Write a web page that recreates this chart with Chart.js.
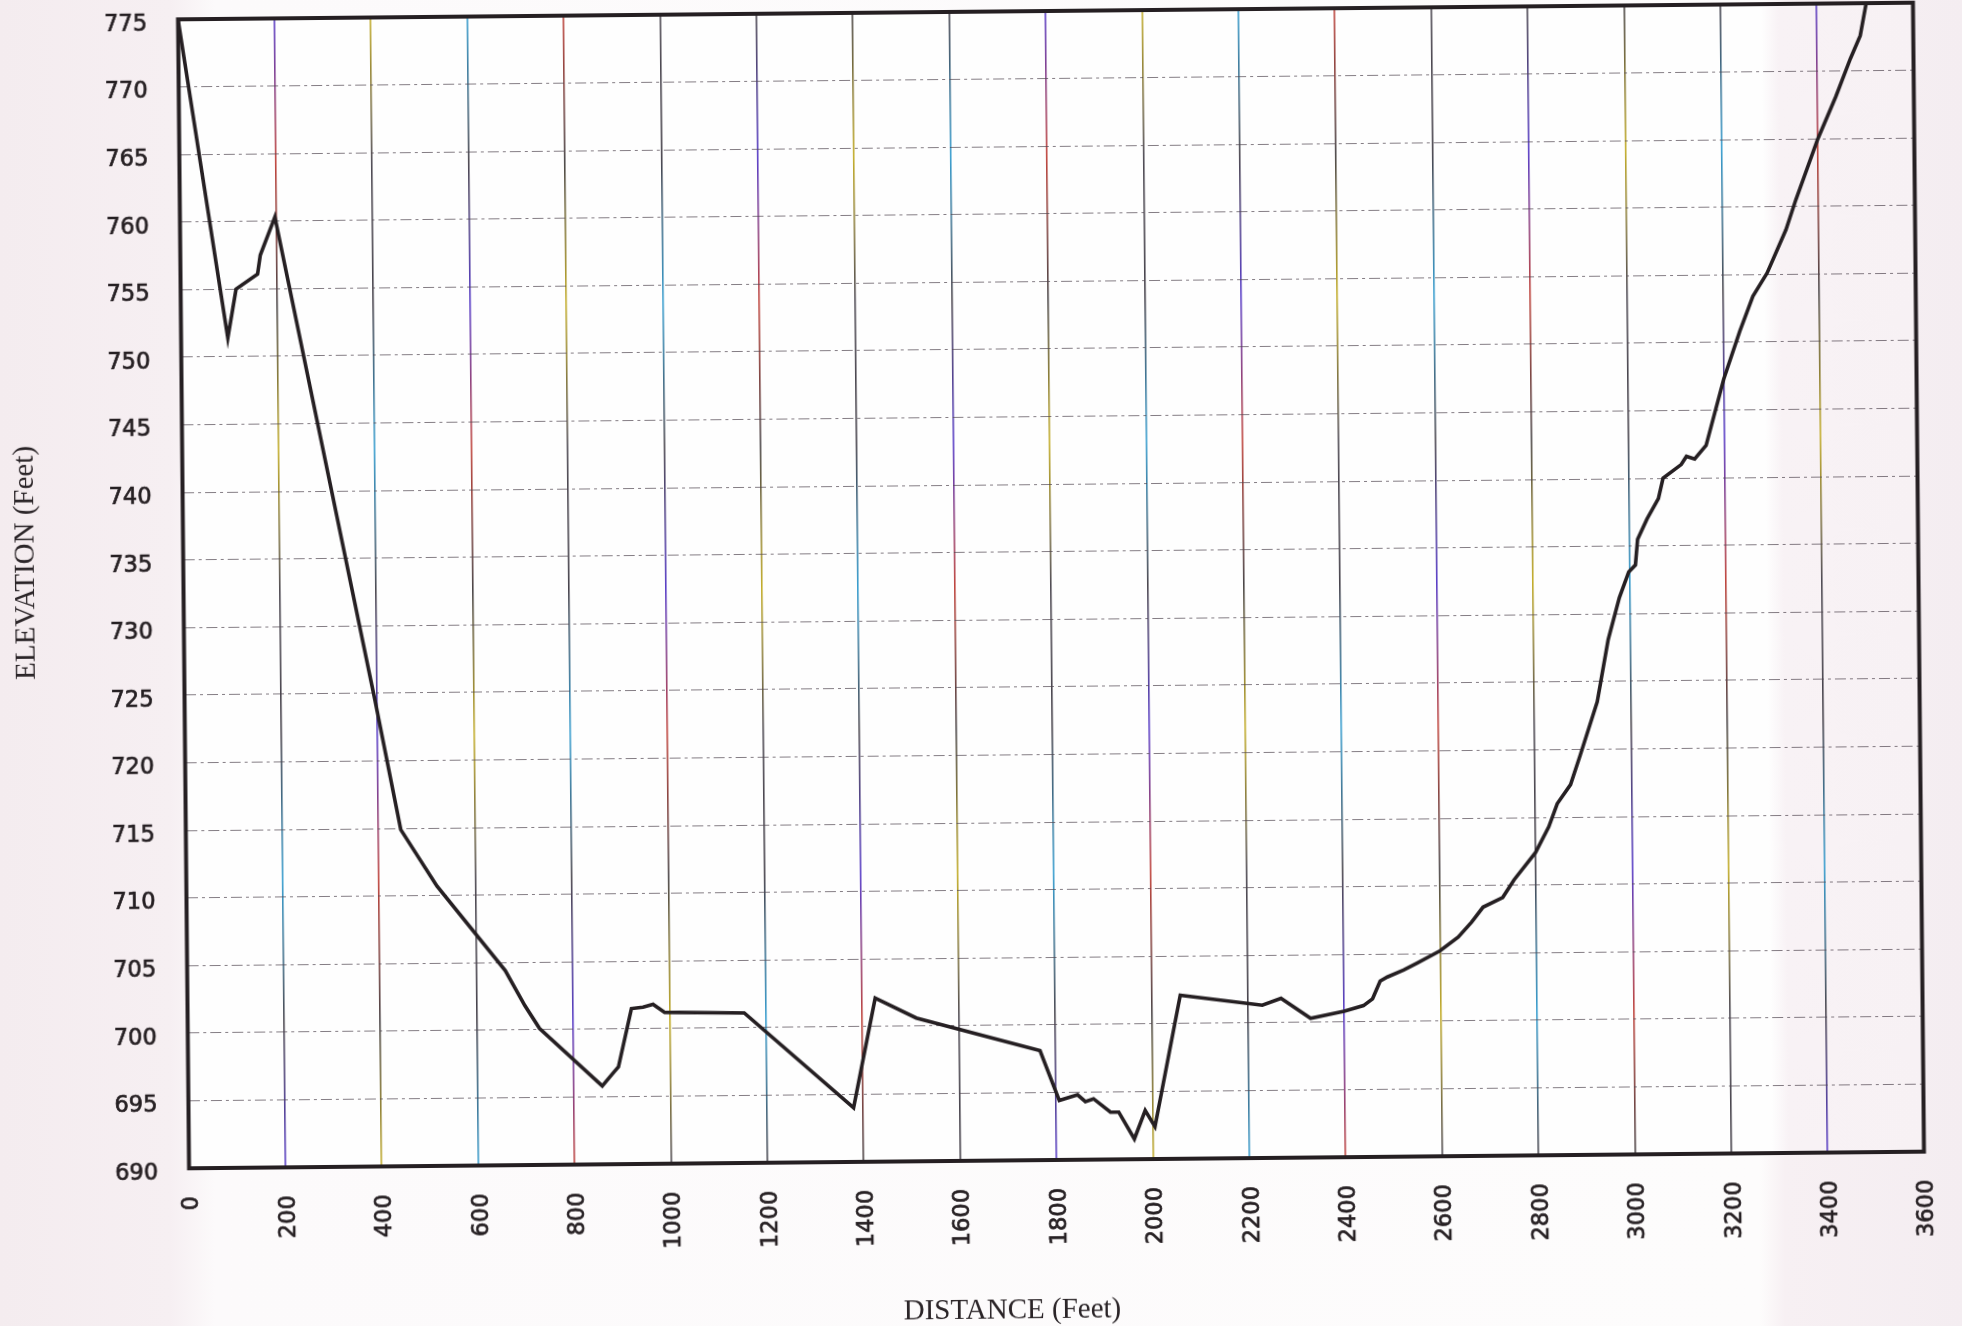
<!DOCTYPE html>
<html>
<head>
<meta charset="utf-8">
<title>Elevation profile</title>
<script src="https://cdn.jsdelivr.net/npm/chart.js@4.4.1/dist/chart.umd.min.js"></script>
<style>
  html, body { margin: 0; padding: 0; }
  body {
    width: 1962px; height: 1326px; overflow: hidden;
    background: linear-gradient(to right, #f4ecef 0px, #f6eff2 170px, #fcfafb 215px, #fdfcfc 1760px, #f7f0f3 1785px, #f4edf1 1962px);
  }
  #wrap {
    position: absolute; left: 0; top: 0; width: 1962px; height: 1326px;
    transform: rotate(-0.55deg); transform-origin: 1051px 585px;
  }
  canvas { display: block; }
</style>
</head>
<body>
<div id="wrap"><canvas id="profile" width="1962" height="1326" style="width:1962px;height:1326px"></canvas></div>
<script>
// Surveyed ground profile: distance along the section line and ground elevation (feet)
const distanceFt = [0, 97, 115, 160, 166, 197, 395, 446, 520, 660, 700, 730,
  859, 883, 893, 921, 945, 966, 990, 1155, 1380, 1427, 1512, 1768,
  1807, 1845, 1861, 1878, 1913, 1930, 1962, 1985, 2005,
  2060, 2230, 2269, 2330, 2400, 2440, 2459, 2475, 2490, 2524, 2552,
  2600, 2638, 2666, 2690, 2731, 2755, 2800,
  2828, 2846, 2874, 2894, 2931, 2955, 2979, 2999,
  3013, 3018, 3038, 3062, 3072, 3110, 3121, 3138, 3162,
  3200, 3234, 3262, 3292, 3332, 3353, 3400, 3438, 3469, 3490, 3503];

const elevationFt = [775, 751.4, 755, 756.1, 757.5, 760.3, 724.5, 714.9, 710.7, 704.4, 701.8, 700.1,
  695.8, 696.8, 697.2, 701.5, 701.6, 701.8, 701.2, 701.1, 694.0, 702.1, 700.6, 698.1,
  694.4, 694.8, 694.3, 694.5, 693.5, 693.5, 691.5, 693.6, 692.4,
  702.1, 701.3, 701.8, 700.3, 700.8, 701.2, 701.7, 703.0, 703.3, 703.8, 704.3,
  705.2, 706.2, 707.3, 708.4, 709.1, 710.4, 712.4,
  714.3, 716.0, 717.4, 719.5, 723.5, 728.1, 731.2, 733.1,
  733.6, 735.5, 737.0, 738.5, 740.0, 741.0, 741.6, 741.4, 742.4,
  747.3, 750.8, 753.4, 755.1, 758.3, 760.5, 765.0, 768.1, 770.9, 772.6, 775.0];

const distanceTicks = [0, 200, 400, 600, 800, 1000, 1200, 1400, 1600, 1800, 2000,
  2200, 2400, 2600, 2800, 3000, 3200, 3400, 3600];
const elevationTicks = [690, 695, 700, 705, 710, 715, 720, 725, 730, 735, 740,
  745, 750, 755, 760, 765, 770, 775];

const xTitle = 'DISTANCE (Feet)';
const yTitle = 'ELEVATION (Feet)';

const INK = '#251f22';
const TICK_FONT = { family: '"DejaVu Sans", sans-serif', size: 22.5, lineHeight: 1 };
const TITLE_FONT = '29px "Liberation Serif", "Times New Roman", serif';

// Printer-style fringe colours for the vertical rules (mostly dark, tinted in places)
const fringe = ['#47434c', '#3a9fd0', '#4d4950', '#5a3fc8', '#c0463e', '#4a4648', '#c4ae2c', '#504c55'];

function ruleColour(c) {
  const chart = c.chart;
  const area = chart.chartArea;
  if (!area) return '#55515a';
  const g = chart.ctx.createLinearGradient(0, area.top, 0, area.bottom);
  const n = fringe.length;
  const segs = 8;
  for (let s = 0; s <= segs; s++) {
    g.addColorStop(s / segs, fringe[(s + c.index * 3) % n]);
  }
  return g;
}

// Plot background, frame and axis titles
const framePlugin = {
  id: 'frame',
  beforeDraw(chart) {
    const { ctx, chartArea: a } = chart;
    ctx.save();
    const g = ctx.createLinearGradient(a.left, 0, a.right, 0);
    const k = (1775 - a.left) / (a.right - a.left);
    g.addColorStop(0, '#fefefe');
    g.addColorStop(k - 0.005, '#fefefe');
    g.addColorStop(k + 0.005, '#f8f2f5');
    g.addColorStop(1, '#f7f1f4');
    ctx.fillStyle = g;
    ctx.fillRect(a.left, a.top, a.right - a.left, a.bottom - a.top);
    ctx.restore();
  },
  afterDraw(chart) {
    const { ctx, chartArea: a } = chart;
    ctx.save();
    ctx.strokeStyle = INK;
    ctx.lineWidth = 4;
    ctx.strokeRect(a.left, a.top, a.right - a.left, a.bottom - a.top);

    ctx.fillStyle = '#2a2427';
    ctx.font = TITLE_FONT;
    ctx.textAlign = 'center';
    ctx.textBaseline = 'middle';
    ctx.fillText(xTitle, a.left + 822, a.bottom + 150);
    ctx.translate(a.left - 157, a.top + 542);
    ctx.rotate(-Math.PI / 2);
    ctx.fillText(yTitle, 0, 0);
    ctx.restore();
  }
};

new Chart(document.getElementById('profile'), {
  type: 'line',
  data: {
    datasets: [{
      data: distanceFt.map((d, i) => ({ x: d, y: elevationFt[i] })),
      borderColor: INK,
      borderWidth: 3.6,
      pointRadius: 0,
      tension: 0,
      fill: false
    }]
  },
  options: {
    responsive: false,
    animation: false,
    devicePixelRatio: 1,
    layout: { padding: { left: 0, top: 11, right: 43.5, bottom: 0 } },
    plugins: { legend: { display: false }, tooltip: { enabled: false } },
    scales: {
      x: {
        type: 'linear',
        min: 0,
        max: 3600,
        afterBuildTicks: s => { s.ticks = distanceTicks.map(v => ({ value: v })); },
        afterFit: s => { s.height = 166; s.paddingLeft = 0; s.paddingRight = 0; },
        ticks: {
          autoSkip: false,
          minRotation: 90,
          maxRotation: 90,
          padding: 28,
          labelOffset: 3,
          color: INK,
          textStrokeColor: INK,
          textStrokeWidth: 0.7,
          font: TICK_FONT,
          callback: v => String(v)
        },
        grid: { color: ruleColour, lineWidth: 1.6, drawTicks: false },
        border: { display: false }
      },
      y: {
        type: 'linear',
        min: 690,
        max: 775,
        afterBuildTicks: s => { s.ticks = elevationTicks.map(v => ({ value: v })); },
        afterFit: s => { s.width = 183.5; s.paddingTop = 0; s.paddingBottom = 0; },
        ticks: {
          autoSkip: false,
          padding: 31,
          labelOffset: 5,
          color: INK,
          textStrokeColor: INK,
          textStrokeWidth: 0.7,
          font: TICK_FONT,
          callback: v => String(v)
        },
        grid: { color: 'rgba(80,70,80,0.7)', lineWidth: 1, drawTicks: false },
        border: { display: false, dash: [11, 4, 3, 4] }
      }
    }
  },
  plugins: [framePlugin]
});
</script>
</body>
</html>
